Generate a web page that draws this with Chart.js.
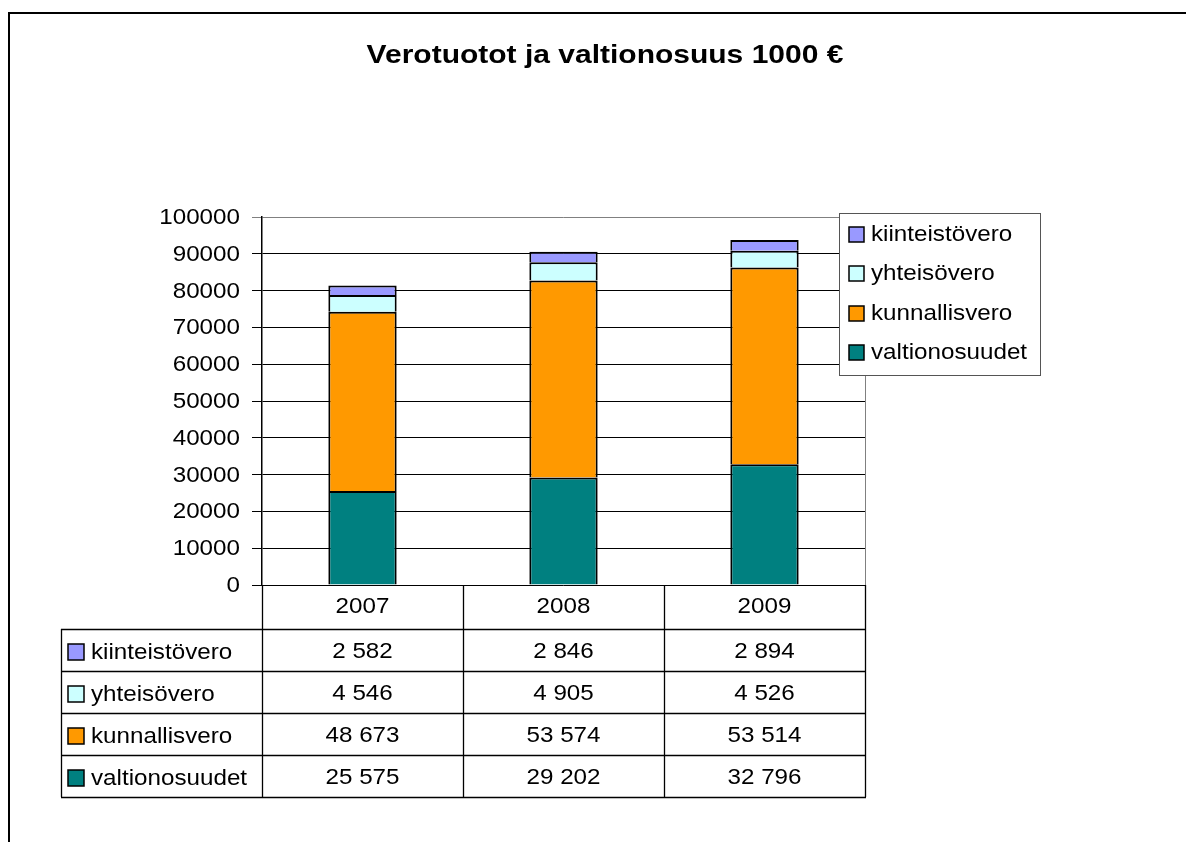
<!DOCTYPE html>
<html>
<head>
<meta charset="utf-8">
<script src="https://cdn.jsdelivr.net/npm/chart.js@4.4.0/dist/chart.umd.min.js"></script>
<style>
html, body { margin: 0; padding: 0; background: #fff; }
</style>
</head>
<body>
<canvas id="myChart" width="1186" height="842"></canvas>
<script>
// data
const years = ['2007', '2008', '2009'];
const valtionosuudet = [25575, 29202, 32796];
const kunnallisvero = [48673, 53574, 53514];
const yhteisovero = [4546, 4905, 4526];
const kiinteistovero = [2582, 2846, 2894];
const yTicks = [0, 10000, 20000, 30000, 40000, 50000, 60000, 70000, 80000, 90000, 100000];

const FONT = '"Liberation Sans", Arial, sans-serif';
const STRETCH = 1.1; // the original text is a bit wide

function fmt(n) {
    return String(n).replace(/\B(?=(\d{3})+(?!\d))/g, ' ');
}

// draw text stretched horizontally around its anchor
function txt(c, s, x, y, align, sx) {
    c.save();
    c.translate(x, y);
    c.scale(sx || STRETCH, 1);
    c.textAlign = align;
    c.fillText(s, 0, 0);
    c.restore();
}

// page border, tick labels, legend box and data table
const sheetPlugin = {
    id: 'sheet',
    beforeDraw(chart) {
        const c = chart.ctx;
        c.save();
        c.fillStyle = '#fff';
        c.fillRect(0, 0, chart.width, chart.height);
        c.strokeStyle = '#000';
        c.lineWidth = 2;
        c.beginPath();
        c.moveTo(9, chart.height);
        c.lineTo(9, 13);
        c.lineTo(chart.width, 13);
        c.stroke();
        c.restore();
    },
    afterDraw(chart) {
        const c = chart.ctx;
        const a = chart.chartArea;
        const x = chart.scales.x;
        const y = chart.scales.y;
        const ds = chart.data.datasets;
        c.save();

        // title
        c.fillStyle = '#000';
        c.font = 'bold 25px ' + FONT;
        c.textBaseline = 'alphabetic';
        txt(c, 'Verotuotot ja valtionosuus 1000 €', 605, 63, 'center', 1.2);

        // y tick labels
        c.font = '22px ' + FONT;
        c.textBaseline = 'middle';
        y.ticks.forEach(function(t) {
            txt(c, String(t.value), 240, y.getPixelForValue(t.value) + 1, 'right');
        });

        // plot border (gray right side)
        c.strokeStyle = '#808080';
        c.lineWidth = 1;
        c.beginPath();
        c.moveTo(a.right + 0.5, a.top);
        c.lineTo(a.right + 0.5, a.bottom);
        c.stroke();

        // legend box
        c.fillStyle = '#fff';
        c.fillRect(839, 213, 201, 162);
        c.strokeStyle = '#555';
        c.strokeRect(839.5, 213.5, 201, 162);
        const legY = [234, 273, 313, 352];
        ds.slice().reverse().forEach(function(d, i) {
            c.fillStyle = d.backgroundColor;
            c.fillRect(849, legY[i] - 7, 15, 15);
            c.strokeStyle = '#000';
            c.lineWidth = 1.5;
            c.strokeRect(849, legY[i] - 7, 15, 15);
            c.fillStyle = '#000';
            txt(c, d.label, 871, legY[i] + 1, 'left');
        });

        // data table
        const half = (x.getPixelForValue(1) - x.getPixelForValue(0)) / 2;
        const top = a.bottom;
        const headH = 44;
        const rowH = 42;
        const bottom = top + headH + rowH * ds.length;
        const tLeft = 61;
        c.strokeStyle = '#000';
        c.lineWidth = 1.3;
        c.beginPath();
        for (let i = 0; i <= years.length; i++) {
            const px = Math.round(x.getPixelForValue(0) - half + i * half * 2) + 0.5;
            c.moveTo(px, top);
            c.lineTo(px, bottom);
        }
        c.moveTo(tLeft + 0.5, top + headH);
        c.lineTo(tLeft + 0.5, bottom);
        for (let r = 0; r <= ds.length; r++) {
            const py = Math.round(top + headH + r * rowH) + 0.5;
            c.moveTo(tLeft, py);
            c.lineTo(a.right + 1, py);
        }
        c.stroke();

        c.fillStyle = '#000';
        years.forEach(function(yr, i) {
            txt(c, yr, x.getPixelForValue(i), top + headH / 2, 'center');
        });
        ds.slice().reverse().forEach(function(d, r) {
            const cy = top + headH + r * rowH + rowH / 2 + 2;
            c.fillStyle = d.backgroundColor;
            c.fillRect(68, cy - 8, 16, 16);
            c.strokeStyle = '#000';
            c.lineWidth = 1.5;
            c.strokeRect(68, cy - 8, 16, 16);
            c.fillStyle = '#000';
            txt(c, d.label, 91, cy + 1, 'left');
            d.data.forEach(function(v, i) {
                txt(c, fmt(v), x.getPixelForValue(i), cy, 'center');
            });
        });
        c.restore();
    }
};

const ctx = document.getElementById('myChart').getContext('2d');

const myChart = new Chart(ctx, {
    type: 'bar',
    data: {
        labels: years,
        datasets: [{
            label: 'valtionosuudet',
            data: valtionosuudet,
            backgroundColor: '#008080'
        }, {
            label: 'kunnallisvero',
            data: kunnallisvero,
            backgroundColor: '#FF9900'
        }, {
            label: 'yhteisövero',
            data: yhteisovero,
            backgroundColor: '#CCFFFF'
        }, {
            label: 'kiinteistövero',
            data: kiinteistovero,
            backgroundColor: '#9999FF'
        }]
    },
    options: {
        responsive: false,
        animation: false,
        layout: {
            padding: { left: 0, right: 321, top: 217, bottom: 257 }
        },
        datasets: {
            bar: {
                borderColor: '#000',
                borderWidth: 2,
                categoryPercentage: 1,
                barPercentage: 0.34
            }
        },
        plugins: {
            legend: { display: false },
            title: { display: false },
            tooltip: { enabled: false }
        },
        scales: {
            x: {
                stacked: true,
                display: false
            },
            y: {
                stacked: true,
                min: 0,
                max: 100000,
                afterFit: function(scale) { scale.width = 262; },
                afterBuildTicks: function(scale) {
                    scale.ticks = yTicks.map(function(v) { return { value: v }; });
                },
                ticks: { display: false },
                grid: {
                    color: function(c) { return c.tick && c.tick.value === 100000 ? '#808080' : '#000'; },
                    lineWidth: 1,
                    tickLength: 10
                },
                border: { color: '#000', width: 1.5 }
            }
        }
    },
    plugins: [sheetPlugin]
});
</script>
</body>
</html>
